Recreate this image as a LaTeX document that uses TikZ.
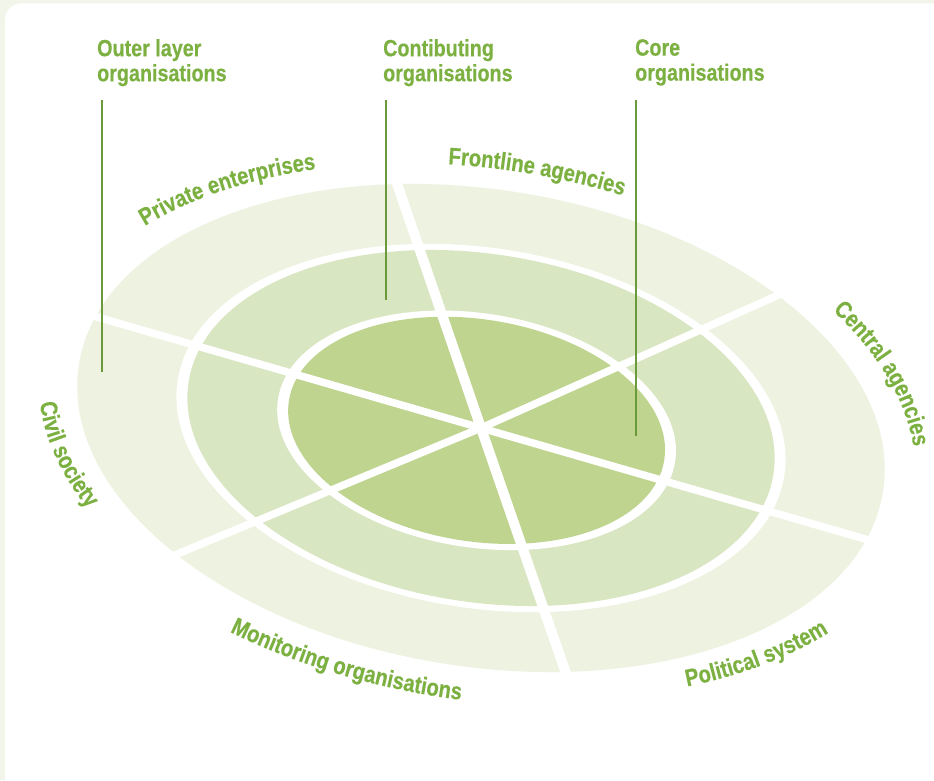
\documentclass[tikz,border=0pt]{standalone}
\usepackage{fontspec}
\usepackage{tikz}
\usetikzlibrary{decorations.text}

\newfontfamily\lblfont[FakeStretch=0.84,BoldFeatures={FakeBold=0.4}]{Liberation Sans}
\definecolor{panelbg}{HTML}{F2F5EA}
\definecolor{ringout}{HTML}{EEF3E1}
\definecolor{ringmid}{HTML}{D9E6C2}
\definecolor{ringin}{HTML}{BFD48F}
\definecolor{lblgreen}{HTML}{7CB142}
\definecolor{pingreen}{HTML}{6A9A3C}
\newcommand\arcfont{\lblfont\bfseries\fontsize{24}{24}\selectfont\color{lblgreen}}

\begin{document}
\begin{tikzpicture}[x=1pt,y=1pt]
		\tikzstyle{toplabel}=[anchor=north west,inner sep=0pt,align=left,text=lblgreen,
		font=\lblfont\bfseries\fontsize{23.5}{25}\selectfont]
		\tikzstyle{pinline}=[draw=pingreen,line width=1.5pt]
		\tikzstyle{spoke}=[draw=white,line width=7.5pt]
		\tikzset{arclabel/.style={decorate,decoration={text along path,text align=center,text={|\arcfont|#1}}}}
		
		\useasboundingbox (0,0) rectangle (934,780);
		\clip (0,0) rectangle (934,780);
		
		%% Panel
		\fill[panelbg] (0,0) rectangle (934,780);
		\fill[white,rounded corners=16pt] (5,-30) rectangle (970,776.5);
		
		%% Rings
		\begin{scope}[shift={(481,352)},rotate=-9]
		\coordinate (hub) at (0,0);
		\coordinate (innerhub) at (-4,-3);
		\fill[ringout] (hub) ellipse [x radius=407,y radius=238.5];
		\fill[white] (hub) ellipse [x radius=307,y radius=180];
		\fill[ringmid] (hub) ellipse [x radius=296,y radius=174];
		\fill[white] (innerhub) ellipse [x radius=201,y radius=117];
		\fill[ringin] (innerhub) ellipse [x radius=190,y radius=111];
		
		%% Sector labels
		\path[arclabel={Private enterprises}] (146:441.5 and 259) arc[start angle=146,end angle=117,x radius=441.5,y radius=259];
		\path[arclabel={Frontline agencies}] (100:441.5 and 259) arc[start angle=100,end angle=76,x radius=441.5,y radius=259];
		\path[arclabel={Central agencies}] (42:438 and 259) arc[start angle=42,end angle=10,x radius=438,y radius=259];
		\path[arclabel={Political system}] (-58:452 and 265) arc[start angle=-58,end angle=-33,x radius=452,y radius=265];
		\path[arclabel={Monitoring organisations}] (-118:464 and 272) arc[start angle=-118,end angle=-87,x radius=464,y radius=272];
		\path[arclabel={Civil society}] (188:446 and 262) arc[start angle=188,end angle=214,x radius=446,y radius=262];
		\end{scope}
		
		%% Sector borders
		\begin{scope}
		\clip[shift={(481,352)},rotate=-9] (0,0) ellipse [x radius=408,y radius=239.5];
		\coordinate (cuttop) at (394,605);
		\coordinate (cutbottom) at (569,98);
		\coordinate (cutleft) at (90,465);
		\coordinate (cutright) at (872,239);
		\coordinate (cutlowleft) at (170,223);
		\coordinate (cutupright) at (783,487);
		\draw[spoke,line width=10pt] (hub) -- (cuttop);
		\draw[spoke,line width=10pt] (hub) -- (cutbottom);
		\draw[spoke] (hub) -- (cutleft);
		\draw[spoke] (hub) -- (cutright);
		\draw[spoke] (hub) -- (cutlowleft);
		\draw[spoke] (hub) -- (cutupright);
		\end{scope}
		
		%% Layer labels and pins
		\node[toplabel] (outerlbl) at (97,741) {Outer layer\\organisations};
		\node[toplabel] (contriblbl) at (383,741) {Contibuting\\organisations};
		\node[toplabel] (corelbl) at (635,741) {Core\\organisations};
		
		\coordinate (outerpin) at (102,408);
		\coordinate (contribpin) at (386,480);
		\coordinate (corepin) at (636,344);
		
		\draw[pinline] ([yshift=-14pt]outerpin |- outerlbl.south) -- (outerpin);
		\draw[pinline] ([yshift=-14pt]contribpin |- contriblbl.south) -- (contribpin);
		\draw[pinline] ([yshift=-14pt]corepin |- corelbl.south) -- (corepin);
		
\end{tikzpicture}
\end{document}
